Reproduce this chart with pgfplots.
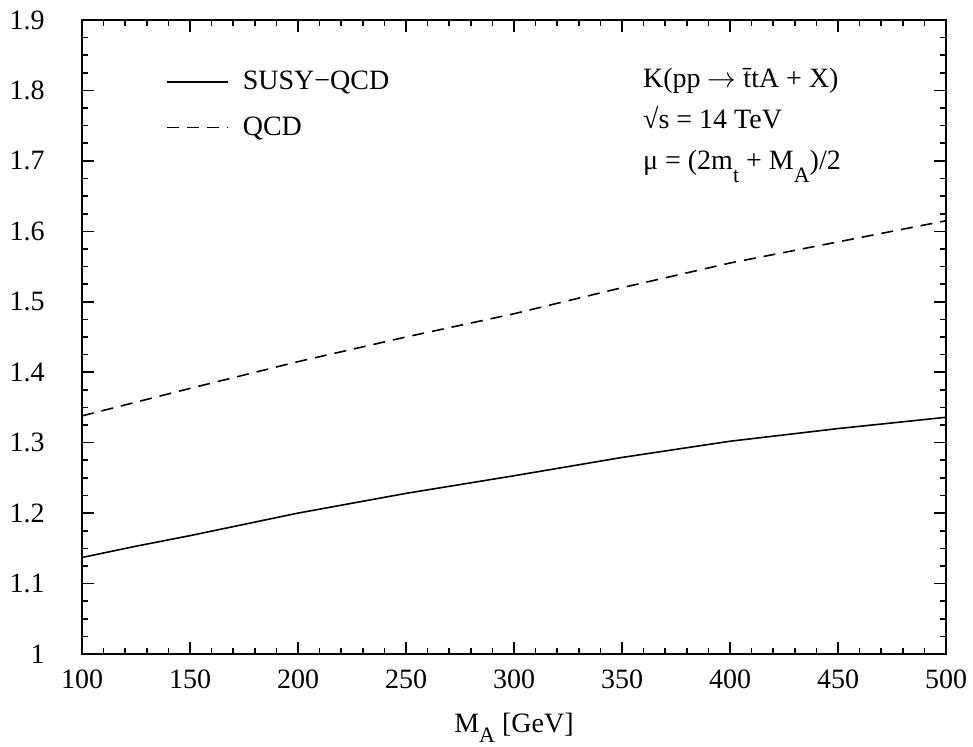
\documentclass[border=0pt]{standalone}
\usepackage{fontspec}
\setmainfont{Liberation Serif}
\usepackage{pgfplots}
\pgfplotsset{compat=1.18}

\newcommand\lowsub[2][-6.5pt]{\raisebox{#1}{\fontsize{11}{11}\selectfont #2}}

\begin{document}
\begin{tikzpicture}
\path[use as bounding box] (-41pt,-46.5pt) rectangle (445.5pt,327pt);
\begin{axis}[
    at={(0pt,0pt)}, anchor=south west,
    scale only axis, width=432pt, height=317pt,
    xmin=100, xmax=500, ymin=1, ymax=1.9,
    xtick={100,150,...,500},
    ytick={1,1.1,1.2,1.3,1.4,1.5,1.6,1.7,1.8,1.9},
    yticklabels={1,1.1,1.2,1.3,1.4,1.5,1.6,1.7,1.8,1.9},
    minor x tick num=4, minor y tick num=3,
    tick align=inside,
    major tick length=6pt, minor tick length=3pt,
    axis line style={line width=1pt},
    every tick/.style={black, line width=0.8pt},
    /pgf/number format/assume math mode=true,
    tick label style={font=\fontsize{14}{16}\selectfont},
    yticklabel style={anchor=east, inner sep=0pt, xshift=-18.5pt},
    xticklabel style={anchor=north, inner sep=0pt, yshift=-7.5pt},
    xlabel={M\lowsub[-5pt]{A} [GeV]},
    xlabel style={at={(axis description cs:0.5,0)}, anchor=north, inner sep=0pt,
        yshift=-29.5pt, font=\fontsize{14}{16}\selectfont},
    legend style={at={(axis description cs:0.097,0.92)}, anchor=north west,
        draw=none, fill=none, inner sep=0pt, row sep=12pt,
        font=\fontsize{14}{16}\selectfont,
        nodes={inner sep=0pt, anchor=west}},
    legend cell align=left,
    legend image code/.code={\draw[#1] (0pt,0pt) -- (30.5pt,0pt);},
    every axis legend/.append style={column sep=7pt},
]
\addplot[black, line width=0.8pt] coordinates {
    (100,1.137) (125,1.153) (150,1.168) (175,1.184) (200,1.200) (250,1.228)
    (300,1.253) (350,1.279) (400,1.302) (450,1.320) (500,1.336)
};
\addlegendentry{SUSY−QCD}
\addplot[black, line width=0.8pt, dash pattern=on 6pt off 4pt] coordinates {
    (100,1.338) (150,1.377) (200,1.415) (250,1.450)
    (300,1.483) (350,1.520) (400,1.555) (450,1.585) (500,1.615)
};
\addlegendentry{QCD}
\node[anchor=north west, align=left, inner sep=0pt,
      font=\fontsize{14}{20.5}\selectfont]
    at (axis description cs:0.649,0.925)
    {K(pp $\rightarrow$ \={t}tA + X)\\
     √s = 14 TeV\\
     μ = (2m\lowsub{t} + M\lowsub{A})/2};
\end{axis}
\end{tikzpicture}
\end{document}
